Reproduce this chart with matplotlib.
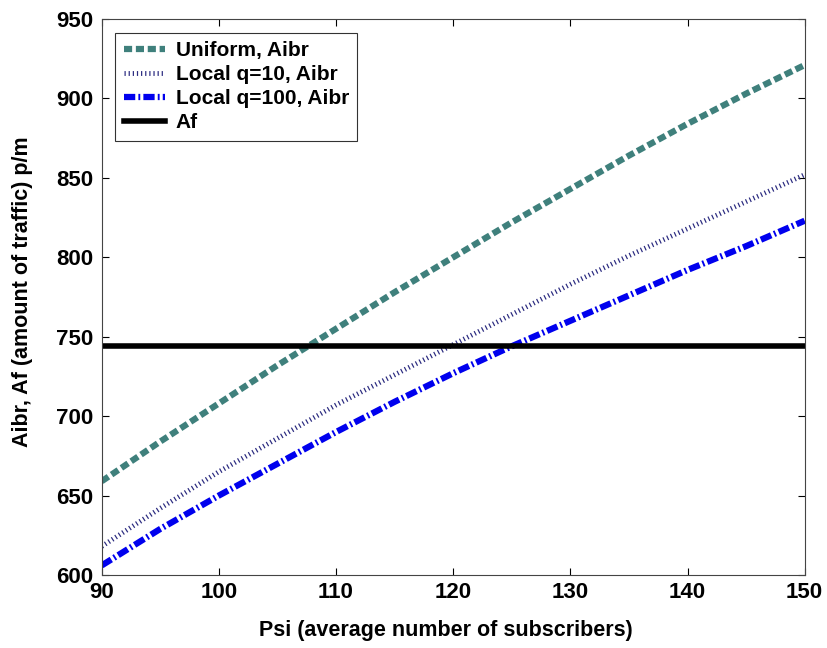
import matplotlib
matplotlib.use("Agg")
import matplotlib.pyplot as plt
import numpy as np

psi = [90, 95, 100, 105, 110, 115, 120, 125, 130, 135, 140, 145, 150]
uniform = [659, 684, 708, 732, 755, 778, 800, 822, 843, 864, 884, 903, 921]
local_q10 = [618, 642, 665, 686, 707, 726, 745, 764, 783, 801, 818, 835, 852]
local_q100 = [606, 629, 650, 670, 690, 709, 727, 744, 760, 776, 792, 807, 823]
af_value = 744

plt.rcParams['font.family'] = ['Liberation Sans', 'DejaVu Sans']
plt.rcParams['font.weight'] = 'bold'

fig = plt.figure(figsize=(8.27, 6.48), dpi=100)
ax = fig.add_axes([0.123, 0.1127, 0.850, 0.858])

ax.plot(psi, uniform, color='#3f807c', lw=4.5, linestyle=(0, (1.3, 0.6)), label='Uniform, Aibr')
ax.plot(psi, local_q10, color='#2b2b80', lw=3.5, linestyle=(0, (0.25, 0.6)), label='Local q=10, Aibr')
ax.plot(psi, local_q100, color='#0000ee', lw=4.5, linestyle=(0, (1.8, 0.5, 0.3, 0.5)), label='Local q=100, Aibr')
ax.plot([psi[0], psi[-1]], [af_value, af_value], color='black', lw=4, label='Af')

ax.set_xlim(90, 150)
ax.set_ylim(600, 950)
ax.set_xticks(np.arange(90, 151, 10))
ax.set_yticks(np.arange(600, 951, 50))
ax.tick_params(direction='in', top=True, right=True, labelsize=16, length=5, width=0.8)
ax.tick_params(axis='y', pad=6)
ax.tick_params(axis='x', pad=5)
for lab in ax.get_xticklabels() + ax.get_yticklabels():
    lab.set_fontweight('bold')
for sp in ax.spines.values():
    sp.set_linewidth(0.8)
    sp.set_color('#444444')

xl = ax.set_xlabel('Psi (average number of subscribers)', fontsize=15.5, fontweight='bold')
xl.set_va('center')
ax.xaxis.set_label_coords(0.49, -0.1007)
yl = ax.set_ylabel('Aibr, Af (amount of traffic) p/m', fontsize=15.5, fontweight='bold')
yl.set_va('center')
ax.yaxis.set_label_coords(-0.113, 0.51)

leg = ax.legend(loc='upper left', prop={'size': 15, 'weight': 'bold'}, frameon=True,
                fancybox=False, edgecolor='black', borderpad=0.4, labelspacing=0.25,
                handlelength=2.0, handletextpad=0.5, borderaxespad=0.65)
leg.get_frame().set_linewidth(0.8)

fig.savefig('out.png', dpi=100)
